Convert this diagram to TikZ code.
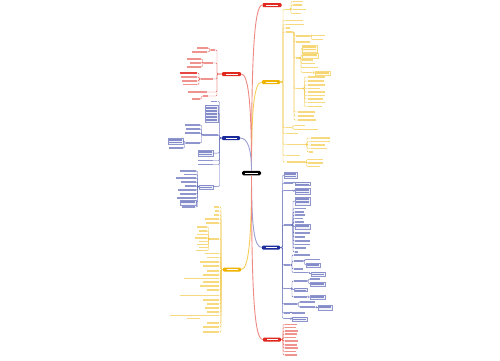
\documentclass[tikz,border=0pt]{standalone}
\definecolor{cR}{HTML}{E0281E}
\definecolor{cG}{HTML}{EFB300}
\definecolor{cB}{HTML}{1D2C9C}
\tikzset{
 lf/.style={rectangle, inner sep=0pt, minimum height=1.5pt},
 bx/.style={rectangle, inner sep=0pt, line width=0.3pt},
 cn/.style={line width=0.4pt, rounded corners=1pt},
 br/.style={rectangle, rounded corners=1pt, inner sep=0pt, minimum height=4pt},
 trunk/.style={line width=0.9pt},
}
\newcommand{\mmLR}[7]{%
  \node[lf, fill=#3!50, minimum width={#5-#4}, anchor=west] (#2) at (#4,#6) {};
  \draw[cn, draw=#3!70] (#1.east) -| (#7,#6) -- (#2.west);}
\newcommand{\mmLL}[7]{%
  \node[lf, fill=#3!50, minimum width={#5-#4}, anchor=east] (#2) at (#5,#6) {};
  \draw[cn, draw=#3!70] (#1.west) -| (#7,#6) -- (#2.east);}
\newcommand{\mmlines}[5]{%
  \pgfmathsetmacro\mmya{#4+1.3}\pgfmathsetmacro\mmyb{#4+2.8}\pgfmathsetmacro\mmyc{#5-1}%
  \foreach \mmy in {\mmya,\mmyb,...,\mmyc}{\draw[#1!55, line width=0.7pt] ({#2+1},\mmy) -- ({#3-1},\mmy);}}
\newcommand{\mmBR}[8]{%
  \node[bx, draw=#3!50, fill=#3!7, minimum width={#5-#4}, minimum height={#7-#6}, anchor=north west] (#2) at (#4,#6) {};
  \draw[cn, draw=#3!70] (#1.east) -| (#8,{(#6+#7)/2}) -- (#2.west);
  \mmlines{#3}{#4}{#5}{#6}{#7}}
\newcommand{\mmBL}[8]{%
  \node[bx, draw=#3!50, fill=#3!7, minimum width={#5-#4}, minimum height={#7-#6}, anchor=north east] (#2) at (#5,#6) {};
  \draw[cn, draw=#3!70] (#1.west) -| (#8,{(#6+#7)/2}) -- (#2.east);
  \mmlines{#3}{#4}{#5}{#6}{#7}}
\newcommand{\mmBranch}[5]{%
  \node[br, fill=#2, minimum width=#5] (#1) at (#3,#4) {\color{white}\rule{\dimexpr#5pt-7pt\relax}{0.9pt}};}
\begin{document}
\begin{tikzpicture}[x=1pt,y=-1pt]
\useasboundingbox[fill=white] (0,0) rectangle (500,360);
% ---------- centre and main branches
\node[br, fill=black, rounded corners=1.5pt, minimum width=19, minimum height=4.5] (C) at (251.5,173) {\color{white}\rule{13pt}{1pt}};
\mmBranch{R1}{cR}{272}{5}{19}
\mmBranch{G1}{cG}{271}{82}{18}
\mmBranch{R2}{cR}{231.5}{74}{19}
\mmBranch{B1}{cB}{231}{138}{18}
\mmBranch{B2}{cB}{271}{247.5}{18}
\mmBranch{G2}{cG}{232}{269.5}{18}
\mmBranch{R3}{cR}{272}{339.5}{18}
\draw[trunk, cR!55] (C.north) .. controls (251.5,60) and (254,5) .. (R1.west);
\draw[trunk, cG!65] (C.north) .. controls (251.5,110) and (254,82) .. (G1.west);
\draw[trunk, cR!55] (C.north) .. controls (251.5,100) and (248,74) .. (R2.east);
\draw[trunk, cB!45] (C.north) .. controls (251.5,150) and (248,138) .. (B1.east);
\draw[trunk, cB!45] (C.south) .. controls (251.5,225) and (254,247.5) .. (B2.west);
\draw[trunk, cG!65] (C.south) .. controls (251.5,245) and (248,269.5) .. (G2.east);
\draw[trunk, cR!55] (C.south) .. controls (251.5,300) and (255,339.5) .. (R3.west);
% ---------- right gold branch
\mmLR{G1}{gA}{cG}{285}{290}{9.5}{283}
\mmLR{gA}{gA1}{cG}{293}{303}{1.5}{291}
\mmLR{gA}{gA2}{cG}{293}{302}{5}{291}
\mmLR{gA}{gA3}{cG}{293}{306}{9.5}{291}
\mmLR{gA}{gA4}{cG}{293}{301}{13.5}{291}
\mmLR{G1}{gB}{cG}{286}{303}{20.5}{283}
\mmLR{G1}{gC}{cG}{286}{304}{24.5}{283}
\mmLR{G1}{gE}{cG}{286}{290}{28}{283}
\mmLR{G1}{gF}{cG}{286}{292}{32}{283}
\mmLR{gF}{gF1}{cG}{296}{310}{36}{294}
\mmLR{gF1}{gF1a}{cG}{313}{325}{35.5}{311.5}
\mmLR{gF1}{gF1b}{cG}{313}{323}{39.5}{311.5}
\mmLR{gF}{gF2}{cG}{296}{310}{42}{294}
\mmLR{gF}{gF3}{cG}{296}{300}{58}{294}
\mmBR{gF3}{gF3a}{cG}{302}{317}{45}{51.5}{301}
\mmBR{gF3}{gF3b}{cG}{302}{318}{53}{57.5}{301}
\mmLR{gF3}{gF3c}{cG}{302}{313}{60}{301}
\mmLR{gF3}{gF3d}{cG}{302}{315}{63.5}{301}
\mmLR{gF3}{gF3e}{cG}{302}{318}{67.5}{301}
\mmLR{gF3}{gF3f}{cG}{303}{312}{72.5}{301}
\mmBR{gF3f}{gF3g}{cG}{315}{330}{71}{74.5}{313.5}
\mmLR{gF}{gF4}{cG}{296}{302}{88.5}{294}
\foreach \i/\y/\w in {1/77/325,2/81/324,3/85/325,4/88.5/320,5/92/325,6/95.5/325,7/99/323,8/102.5/325,9/106.5/322}
  {\mmLR{gF4}{gF4l\i}{cG}{308}{\w}{\y}{304.5}}
\mmLR{gF}{gF5}{cG}{298}{315}{112}{294}
\mmLR{gF}{gF6}{cG}{298}{314}{116}{294}
\mmLR{gF}{gF7}{cG}{298}{316}{120}{294}
\mmLR{G1}{gG}{cG}{286}{291}{127.5}{283}
\mmLR{gG}{gG1}{cG}{295}{305}{125.5}{293}
\mmLR{gG}{gG2}{cG}{295}{318}{129.5}{293}
\mmLR{G1}{gH}{cG}{287}{298}{133.5}{283}
\mmLR{G1}{gI}{cG}{287}{305}{144.5}{283}
\foreach \i/\y/\a/\w in {1/138/311/330,2/141.5/311/330,3/145/311/325,4/148.5/311/327,5/152/309/313}
  {\mmLR{gI}{gIl\i}{cG}{\a}{\w}{\y}{307}}
\mmLR{G1}{gJ}{cG}{287}{300}{155.5}{283}
\mmLR{G1}{gK}{cG}{287}{305}{162}{283}
\foreach \i/\y/\w in {1/159.5/323,2/163/323,3/166.5/320}
  {\mmLR{gK}{gKl\i}{cG}{308}{\w}{\y}{306.5}}
% ---------- left red branch
\mmLL{R2}{rA}{cR}{211}{215}{50}{217}
\mmLL{rA}{rA1}{cR}{197}{208}{48}{209.5}
\mmLL{rA}{rA2}{cR}{192}{207}{52}{209.5}
\mmLL{R2}{rB}{cR}{204}{213}{63}{217}
\mmLL{rB}{rB1}{cR}{187}{201}{59}{202.5}
\mmLL{rB}{rB2}{cR}{190}{201}{63}{202.5}
\mmLL{rB}{rB3}{cR}{187}{201}{67}{202.5}
\mmLL{R2}{rC}{cR}{201}{213}{79}{217}
\mmLL{rC}{rC1}{cR}{181}{197}{73}{199}
\node[lf, fill=cR!85, minimum width=17, minimum height=2.8, anchor=east] (rC1h) at (rC1.east) {};
\mmLL{rC}{rC2}{cR}{181}{197}{77}{199}
\mmLL{rC}{rC3}{cR}{182}{197}{81}{199}
\mmLL{rC}{rC4}{cR}{183}{197}{84.5}{199}
\mmLL{R2}{rD}{cR}{188}{207}{92}{217}
\mmLL{R2}{rE}{cR}{203}{208}{96}{217}
\mmLL{rE}{rE1}{cR}{192}{200}{99}{201.5}
% ---------- left blue branch
\mmLL{B1}{bA}{cB}{211}{217.5}{101.5}{219.5}
\mmBL{B1}{bB}{cB}{205}{218}{104.5}{122}{219.5}
\mmLL{B1}{bC}{cB}{203}{218}{135}{219.5}
\mmLL{bC}{bC1}{cB}{185}{200}{125}{201.5}
\mmLL{bC}{bC2}{cB}{186}{200}{129}{201.5}
\mmLL{bC}{bC3}{cB}{185}{200}{133}{201.5}
\mmLL{bC}{bC4}{cB}{186}{200}{143}{201.5}
\mmBL{bC4}{bC4a}{cB}{168}{183}{138}{143.5}{184.5}
\mmLL{bC4}{bC4b}{cB}{169}{183}{148}{184.5}
\mmBL{B1}{bD}{cB}{198}{213}{150}{156}{219.5}
\mmLL{B1}{bE}{cB}{198}{213}{160.5}{219.5}
\mmLL{B1}{bF}{cB}{198}{213}{164.5}{219.5}
\mmBL{B1}{bG}{cB}{199}{213}{184.5}{188.5}{219.5}
\foreach \i/\y/\a in {1/171/180,2/174.5/184,3/178/176,4/182/181,5/186/185,6/190/178,7/194/180,8/198/177}
  {\mmLL{bG}{bGl\i}{cB}{\a}{196}{\y}{197.5}}
\mmBL{bG}{bG9}{cB}{180}{196}{200}{204.5}{197.5}
\mmLL{bG}{bG10}{cB}{182}{195}{207}{197.5}
% ---------- right blue branch
\mmBR{B2}{nA}{cB}{284}{297}{172}{178}{282.5}
\mmLR{B2}{nB}{cB}{284}{293}{183}{282.5}
\mmBR{nB}{nB1}{cB}{295}{310}{181.5}{184.5}{294}
\mmLR{B2}{nC}{cB}{284}{293}{190.5}{282.5}
\mmBR{nC}{nC1}{cB}{295}{310}{188}{193.5}{294}
\mmLR{B2}{nD}{cB}{284}{291}{225}{282.5}
\mmBR{nD}{nD1}{cB}{295}{310}{197}{205}{293}
\foreach \i/\y/\w in {2/208.5/306,3/212/304,4/215/305,5/218.5/303,6/222/304}
  {\mmLR{nD}{nDl\i}{cB}{295}{\w}{\y}{293}}
\mmBR{nD}{nD7}{cB}{295}{310}{224}{228.5}{293}
\foreach \i/\y/\w in {8/233/310,9/237/305,10/241/310,11/244.5/310,12/248/306,13/252/298}
  {\mmLR{nD}{nDl\i}{cB}{295}{\w}{\y}{293}}
\mmLR{B2}{nE}{cB}{284}{290}{265}{282.5}
\mmLR{nE}{nE1}{cB}{294}{310}{255}{292}
\mmLR{nE}{nE2}{cB}{294}{303}{261}{292}
\mmLR{nE2}{nE2a}{cB}{306}{320}{259.5}{304.5}
\mmBR{nE2}{nE2b}{cB}{306}{320}{263}{266.5}{304.5}
\mmLR{nE}{nE3}{cB}{294}{303}{269}{292}
\mmLR{nE}{nE4}{cB}{294}{308}{272.5}{292}
\mmBR{nE4}{nE4a}{cB}{311}{325}{271.5}{275.5}{309.5}
\mmLR{B2}{nF}{cB}{284}{290}{288.5}{282.5}
\mmLR{nF}{nF1}{cB}{294}{307}{281}{292}
\mmLR{nF1}{nF1a}{cB}{310}{320}{279}{308.5}
\mmBR{nF1}{nF1b}{cB}{310}{325}{282}{285.5}{308.5}
\mmBR{nF}{nF2}{cB}{294}{307}{287.5}{291}{292}
\mmLR{nF}{nF3}{cB}{294}{307}{297}{292}
\mmBR{nF3}{nF3a}{cB}{310}{325}{295}{298.5}{308.5}
\mmLR{B2}{nG}{cB}{284}{297}{304}{282.5}
\mmLR{nG}{nG1}{cB}{300}{315}{302}{298.5}
\mmLR{nG}{nG2}{cB}{300}{315}{307}{298.5}
\mmBR{nG2}{nG2a}{cB}{318}{332}{305}{310}{316.5}
\mmLR{B2}{nH}{cB}{284}{290}{313}{282.5}
\mmLR{nH}{nH1}{cB}{292}{305}{313}{291}
\mmLR{B2}{nI}{cB}{284}{290}{318.5}{282.5}
\mmBR{nI}{nI1}{cB}{292}{307}{316.5}{321}{291}
% ---------- bottom red branch
\foreach \i/\y/\w in {1/324.5/297,2/327.5/296,3/331/298,4/334/297,5/337.5/296,6/341/298,7/345/297,8/348/298,9/351.5/296,10/355/297}
  {\mmLR{R3}{rr\i}{cR}{285}{\w}{\y}{283}}
% ---------- left gold branch
\foreach \i/\y/\a in {1/207/214,2/211/215,3/215/214,4/219/205,5/223/206}
  {\mmLL{G2}{gl\i}{cG}{\a}{219.5}{\y}{221}}
\mmLL{G2}{gL}{cG}{210}{219.5}{239}{221}
\foreach \i/\y/\a in {1/227/197,2/231/199,3/234.5/197,4/238/195,5/241.5/199,6/244.5/197,7/247.5/199,8/250.5/196}
  {\mmLL{gL}{gLl\i}{cG}{\a}{207}{\y}{208.5}}
\foreach \i/\y/\a in {6/253.5/205,7/257.5/207,8/262/200,9/266/203,10/271/207,11/275/203,12/278.5/184,13/282/203,14/286/200,15/290/207,16/295.5/180,17/300/203,18/304/207,19/308/205,20/312/207,21/315.5/170,22/323/207,23/327/203,24/332/203}
  {\mmLL{G2}{gl\i}{cG}{\a}{219.5}{\y}{221}}
\node[lf, fill=cG!50, minimum width=13, anchor=east] (gl21b) at (200,318.5) {};
\end{tikzpicture}
\end{document}
